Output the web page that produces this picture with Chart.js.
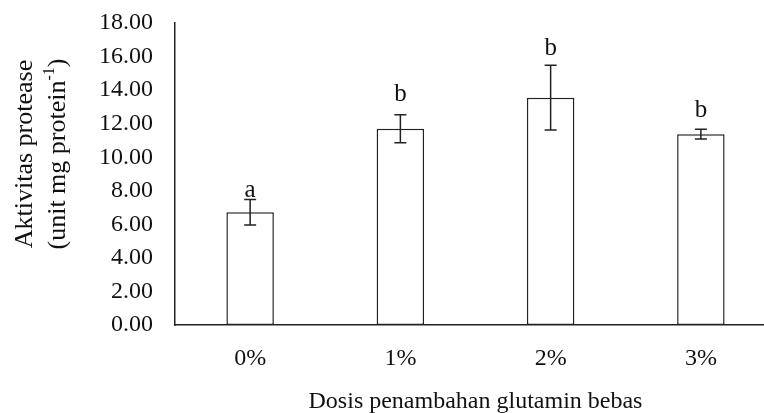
<!DOCTYPE html>
<html>
<head>
<meta charset="utf-8">
<script src="https://cdn.jsdelivr.net/npm/chart.js@4.4.0/dist/chart.umd.min.js"></script>
<style>
  html, body { margin: 0; padding: 0; background: #fff; overflow: hidden; }
  #wrap { width: 764px; height: 413px; overflow: hidden; }
</style>
</head>
<body>
<div id="wrap"><canvas id="chart" width="780" height="413"></canvas></div>
<script>
// data
var categories = ['0%', '1%', '2%', '3%'];
var values = [6.72, 11.70, 13.55, 11.37];
var errors = [0.76, 0.83, 1.93, 0.29];
var letters = ['a', 'b', 'b', 'b'];

var ink = '#222222';
var serif = '"Liberation Serif", "Times New Roman", serif';

// error bars + significance letters
var errorBarPlugin = {
    id: 'errorBars',
    afterDatasetsDraw: function(chart, args, opts) {
        var ctx = chart.ctx;
        var y = chart.scales.y;
        var meta = chart.getDatasetMeta(0);
        ctx.save();
        ctx.strokeStyle = ink;
        ctx.lineWidth = 1.5;
        meta.data.forEach(function(bar, i) {
            var top = y.getPixelForValue(values[i] + errors[i]);
            var bot = y.getPixelForValue(values[i] - errors[i]);
            ctx.beginPath();
            ctx.moveTo(bar.x, top); ctx.lineTo(bar.x, bot);
            ctx.moveTo(bar.x - 6, top); ctx.lineTo(bar.x + 6, top);
            ctx.moveTo(bar.x - 6, bot); ctx.lineTo(bar.x + 6, bot);
            ctx.stroke();
            ctx.fillStyle = '#111';
            ctx.font = '25px ' + serif;
            ctx.textAlign = 'center';
            ctx.textBaseline = 'alphabetic';
            ctx.fillText(letters[i], bar.x, top - opts.offsets[i]);
        });
        ctx.restore();
    }
};

// two-line rotated y title with superscript
var yTitlePlugin = {
    id: 'yTitle',
    afterDraw: function(chart) {
        var ctx = chart.ctx;
        ctx.save();
        ctx.fillStyle = '#111';
        ctx.translate(0, 154);
        ctx.rotate(-Math.PI / 2);
        ctx.textBaseline = 'middle';
        ctx.textAlign = 'center';
        ctx.font = '26px ' + serif;
        ctx.fillText('Aktivitas protease', 0, 25);

        var a = '(unit mg protein', sup = '-1', c = ')';
        var wa = ctx.measureText(a).width;
        var wc = ctx.measureText(c).width;
        ctx.font = '16px ' + serif;
        var ws = ctx.measureText(sup).width;
        var x0 = -(wa + ws + wc) / 2;
        ctx.textAlign = 'left';
        ctx.font = '26px ' + serif;
        ctx.fillText(a, x0, 58);
        ctx.font = '16px ' + serif;
        ctx.fillText(sup, x0 + wa, 50);
        ctx.font = '26px ' + serif;
        ctx.fillText(c, x0 + wa + ws, 58);
        ctx.restore();
    }
};

new Chart(document.getElementById('chart').getContext('2d'), {
    type: 'bar',
    data: {
        labels: categories,
        datasets: [{
            data: values,
            backgroundColor: '#ffffff',
            borderColor: ink,
            borderWidth: 1.5,
            borderSkipped: false,
            barPercentage: 0.316,
            categoryPercentage: 1.0
        }]
    },
    options: {
        responsive: false,
        animation: false,
        layout: { padding: { top: 23, right: 4, left: 0, bottom: 0 } },
        plugins: {
            legend: { display: false },
            tooltip: { enabled: false },
            errorBars: { offsets: [3, 14, 10, 12] }
        },
        scales: {
            x: {
                grid: { display: false, drawTicks: false },
                border: { display: true, color: ink, width: 1.5 },
                ticks: {
                    color: '#111',
                    padding: 19,
                    font: { family: serif, size: 24 }
                },
                title: {
                    display: true,
                    text: 'Dosis penambahan glutamin bebas',
                    color: '#111',
                    padding: { top: 0, bottom: -3 },
                    font: { family: serif, size: 24 }
                },
                afterFit: function(scale) { scale.height = 88; scale.paddingLeft = 0; scale.paddingRight = 0; }
            },
            y: {
                min: 0,
                max: 18,
                grid: { display: false, drawTicks: false },
                border: { display: true, color: ink, width: 1.5 },
                ticks: {
                    stepSize: 2,
                    autoSkip: false,
                    color: '#111',
                    padding: 22,
                    font: { family: serif, size: 24 },
                    callback: function(v) { return v.toFixed(2); }
                },
                afterFit: function(scale) { scale.width = 175; scale.paddingTop = 0; scale.paddingBottom = 0; }
            }
        }
    },
    plugins: [errorBarPlugin, yTitlePlugin]
});
</script>
</body>
</html>
